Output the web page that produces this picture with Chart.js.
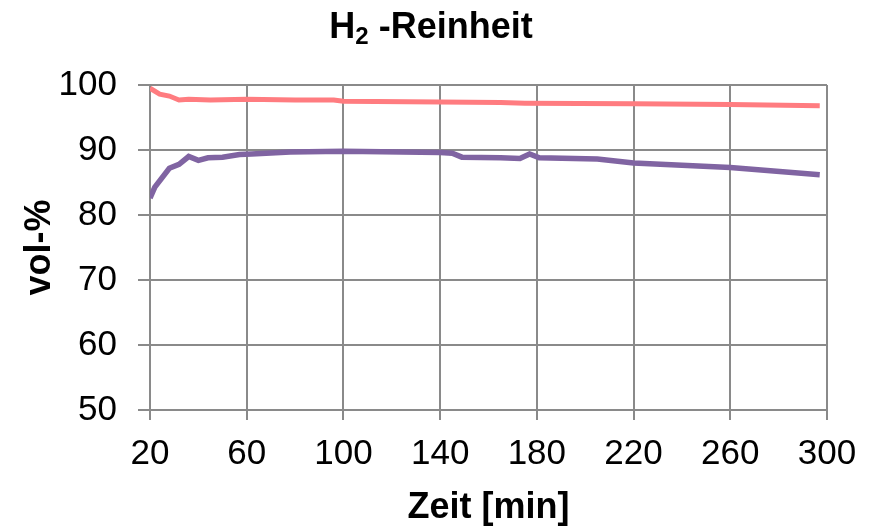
<!DOCTYPE html>
<html>
<head>
<meta charset="utf-8">
<script src="https://cdn.jsdelivr.net/npm/chart.js@4.4.0/dist/chart.umd.min.js"></script>
<style>
  html, body { margin: 0; padding: 0; background: #fff; }
  #wrap { width: 875px; height: 531px; }
</style>
</head>
<body>
<div id="wrap"><canvas id="chart" width="875" height="531"></canvas></div>
<script>
// values
const timeA = [20, 24, 28, 32, 36, 45, 60, 80, 96, 100, 140, 165, 175, 220, 260, 297];
const purityA = [99.5, 98.6, 98.3, 97.7, 97.8, 97.7, 97.8, 97.7, 97.7, 97.5, 97.4, 97.3, 97.2, 97.1, 97.0, 96.8];

const timeB = [20, 22, 28, 32, 36, 40, 44, 50, 57, 62, 78, 100, 140, 145, 149, 165, 173, 177, 181, 205, 220, 260, 297];
const purityB = [82.6, 84.3, 87.2, 87.8, 89.0, 88.4, 88.8, 88.9, 89.3, 89.4, 89.7, 89.8, 89.6, 89.5, 88.9, 88.8, 88.7, 89.4, 88.8, 88.6, 88.0, 87.3, 86.2];

const xTicks = [20, 60, 100, 140, 180, 220, 260, 300];
const yTicks = [50, 60, 70, 80, 90, 100];

const FONT = '"Liberation Sans", Arial, sans-serif';
const GRID = '#8a8a8a';

function pts(xs, ys) {
  return xs.map((x, i) => ({ x: x, y: ys[i] }));
}

// title with a real subscript 2
const titlePlugin = {
  id: 'subTitle',
  afterDraw(chart) {
    const c = chart.ctx;
    const big = 'bold 36px ' + FONT;
    const small = 'bold 24px ' + FONT;
    const parts = [
      { t: 'H', f: big, dy: 0 },
      { t: '2', f: small, dy: 6 },
      { t: ' -Reinheit', f: big, dy: 0 }
    ];
    c.save();
    c.fillStyle = '#000';
    c.textBaseline = 'alphabetic';
    c.textAlign = 'left';
    let total = 0;
    parts.forEach(p => { c.font = p.f; p.w = c.measureText(p.t).width; total += p.w; });
    let x = 431 - total / 2;
    const base = 38;
    parts.forEach(p => { c.font = p.f; c.fillText(p.t, x, base + p.dy); x += p.w; });
    c.restore();
  }
};

const ctx = document.getElementById('chart').getContext('2d');
const chart = new Chart(ctx, {
  type: 'line',
  data: {
    datasets: [
      {
        label: 'A',
        data: pts(timeA, purityA),
        borderColor: '#FF7C80',
        borderWidth: 5,
        pointRadius: 0,
        tension: 0
      },
      {
        label: 'B',
        data: pts(timeB, purityB),
        borderColor: '#8064A2',
        borderWidth: 5.5,
        pointRadius: 0,
        tension: 0
      }
    ]
  },
  plugins: [titlePlugin],
  options: {
    responsive: false,
    animation: false,
    layout: { padding: { left: 0, right: 48, top: 85, bottom: 0 } },
    plugins: {
      legend: { display: false },
      tooltip: { enabled: false },
      title: { display: false }
    },
    scales: {
      x: {
        type: 'linear',
        min: 20,
        max: 300,
        afterBuildTicks: s => { s.ticks = xTicks.map(v => ({ value: v })); },
        afterFit: s => { s.height = 121; },
        ticks: {
          color: '#000',
          font: { family: FONT, size: 35 },
          padding: 13,
          maxRotation: 0
        },
        grid: { color: GRID, lineWidth: 2, tickLength: 10 },
        border: { color: GRID, width: 2 },
        title: {
          display: true,
          text: 'Zeit [min]',
          color: '#000',
          font: { family: FONT, size: 36, weight: 'bold' },
          padding: { top: 0, bottom: 1 }
        }
      },
      y: {
        min: 50,
        max: 100,
        afterBuildTicks: s => { s.ticks = yTicks.map(v => ({ value: v })); },
        afterFit: s => { s.width = 150; },
        ticks: {
          color: '#000',
          font: { family: FONT, size: 35 },
          padding: 21
        },
        grid: { color: GRID, lineWidth: 2, tickLength: 12 },
        border: { color: GRID, width: 2 },
        title: {
          display: true,
          text: 'vol-%',
          color: '#000',
          font: { family: FONT, size: 36, weight: 'bold' },
          padding: { top: 18, bottom: 0 }
        }
      }
    }
  }
});
</script>
</body>
</html>
